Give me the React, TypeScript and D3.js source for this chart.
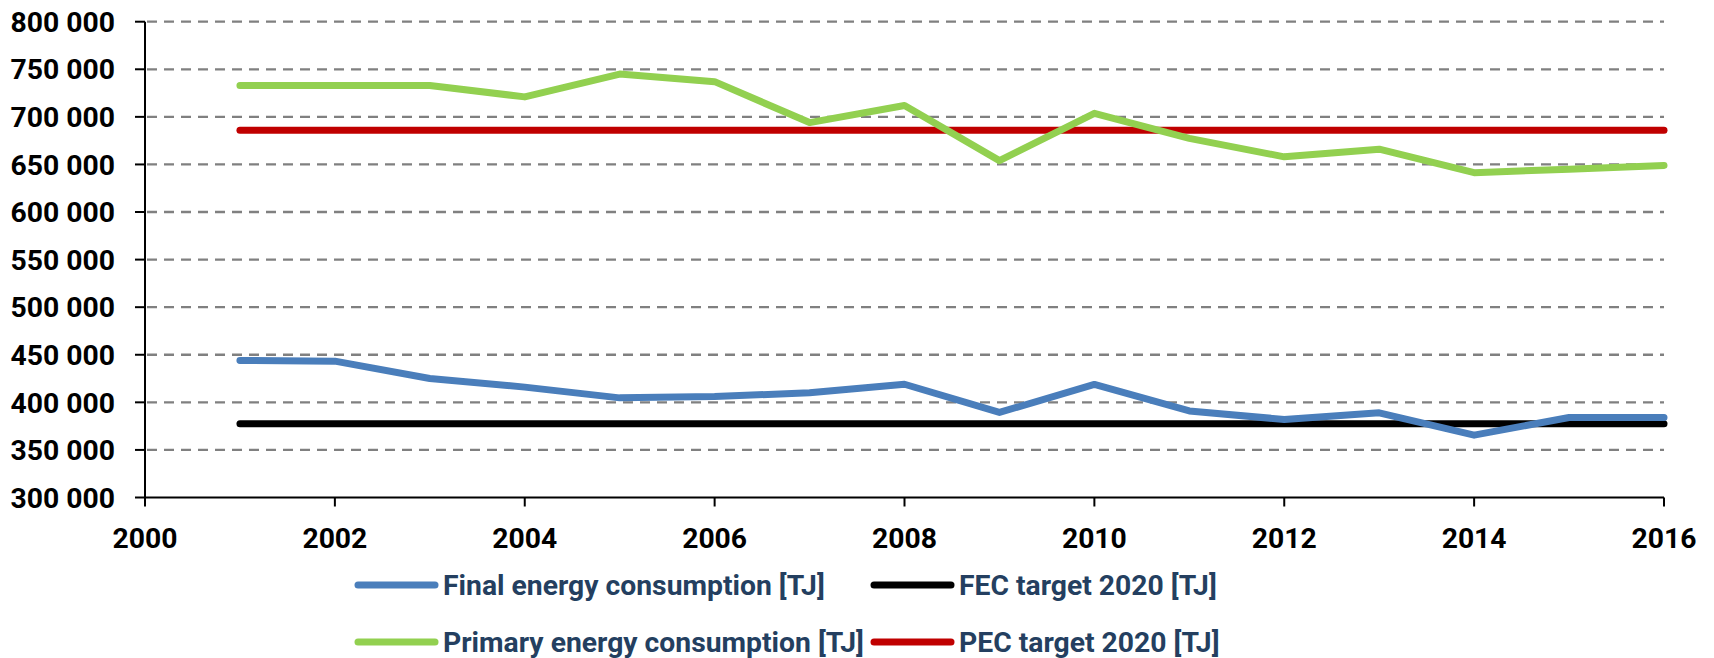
import React, { useEffect, useRef } from "react";
import * as d3 from "d3";

// values in TJ
const years = [2001, 2002, 2003, 2004, 2005, 2006, 2007, 2008, 2009, 2010, 2011, 2012, 2013, 2014, 2015, 2016];
const finalEnergy = [444000, 443300, 425000, 416000, 404700, 406200, 410000, 419000, 389400, 418800, 391000, 382000, 389000, 365500, 384000, 384000];
const primaryEnergy = [733000, 733000, 733000, 721000, 745000, 737000, 694000, 712000, 654000, 703700, 677400, 658000, 666000, 641300, 645000, 649000];
const fecTarget = 377400;
const pecTarget = 686000;

const yTicks = [300000, 350000, 400000, 450000, 500000, 550000, 600000, 650000, 700000, 750000, 800000];
const xTicks = [2000, 2002, 2004, 2006, 2008, 2010, 2012, 2014, 2016];

const legendItems = [
  { name: "Final energy consumption [TJ]", color: "#4A7EBB" },
  { name: "FEC target 2020 [TJ]", color: "#000000" },
  { name: "Primary energy consumption [TJ]", color: "#92D050" },
  { name: "PEC target 2020 [TJ]", color: "#C00000" },
];

const FONT = "Roboto, 'Open Sans', sans-serif";
const FONT_SIZE = 28.3;

export default function App() {
  const ref = useRef<SVGSVGElement>(null);

  useEffect(() => {
    const svg = d3.select(ref.current);
    svg.selectAll("*").remove();

    const x = d3.scaleLinear().domain([2000, 2016]).range([145, 1664]);
    const y = d3.scaleLinear().domain([300000, 800000]).range([497.5, 21.7]);

    const fmt = d3.formatLocale({ decimal: ".", thousands: " ", grouping: [3], currency: ["", ""] }).format(",");

    // dashed grid
    svg.append("g")
      .selectAll("line")
      .data(yTicks.filter(d => d !== 300000))
      .join("line")
      .attr("x1", x(2000) + 2)
      .attr("x2", x(2016))
      .attr("y1", d => y(d))
      .attr("y2", d => y(d))
      .attr("stroke", "#808080")
      .attr("stroke-width", 2.3)
      .attr("stroke-dasharray", "10 7");

    // y axis
    const yAxis = svg.append("g");
    yAxis.append("line")
      .attr("x1", x(2000)).attr("x2", x(2000))
      .attr("y1", y(800000)).attr("y2", y(300000))
      .attr("stroke", "#000").attr("stroke-width", 2);
    yAxis.selectAll(".tick")
      .data(yTicks)
      .join("line")
      .attr("x1", x(2000) - 10).attr("x2", x(2000))
      .attr("y1", d => y(d)).attr("y2", d => y(d))
      .attr("stroke", "#000").attr("stroke-width", 2);
    yAxis.selectAll("text")
      .data(yTicks)
      .join("text")
      .attr("x", 115)
      .attr("y", d => y(d))
      .attr("dy", "0.36em")
      .attr("text-anchor", "end")
      .attr("font-family", FONT)
      .attr("font-weight", "bold")
      .attr("font-size", FONT_SIZE)
      .text(d => fmt(d));

    // x axis
    const xAxis = svg.append("g");
    xAxis.append("line")
      .attr("x1", x(2000)).attr("x2", x(2016))
      .attr("y1", y(300000)).attr("y2", y(300000))
      .attr("stroke", "#000").attr("stroke-width", 2);
    xAxis.selectAll(".tick")
      .data(xTicks)
      .join("line")
      .attr("x1", d => x(d)).attr("x2", d => x(d))
      .attr("y1", y(300000)).attr("y2", y(300000) + 9)
      .attr("stroke", "#000").attr("stroke-width", 2);
    xAxis.selectAll("text")
      .data(xTicks)
      .join("text")
      .attr("x", d => x(d))
      .attr("y", 548)
      .attr("text-anchor", "middle")
      .attr("font-family", FONT)
      .attr("font-weight", "bold")
      .attr("font-size", FONT_SIZE)
      .text(d => d);

    const line = d3.line<[number, number]>()
      .x(d => x(d[0]))
      .y(d => y(d[1]));

    const series: { values: number[]; color: string }[] = [
      { values: years.map(() => pecTarget), color: "#C00000" },
      { values: primaryEnergy, color: "#92D050" },
      { values: years.map(() => fecTarget), color: "#000000" },
      { values: finalEnergy, color: "#4A7EBB" },
    ];

    svg.append("g")
      .selectAll("path")
      .data(series)
      .join("path")
      .attr("d", s => line(years.map((yr, i) => [yr, s.values[i]] as [number, number])))
      .attr("fill", "none")
      .attr("stroke", s => s.color)
      .attr("stroke-width", 7)
      .attr("stroke-linejoin", "round")
      .attr("stroke-linecap", "round");

    // legend, two columns
    const cols = [358, 874];
    const rows = [585, 642];
    const lg = svg.append("g")
      .selectAll("g")
      .data(legendItems)
      .join("g")
      .attr("transform", (d, i) => `translate(${cols[i % 2]},${rows[Math.floor(i / 2)]})`);
    lg.append("line")
      .attr("x1", 0).attr("x2", 77)
      .attr("stroke", d => d.color)
      .attr("stroke-width", 7)
      .attr("stroke-linecap", "round");
    lg.append("text")
      .attr("x", 85)
      .attr("y", 10)
      .attr("font-family", FONT)
      .attr("font-weight", "bold")
      .attr("font-size", FONT_SIZE)
      .attr("fill", "#243F60")
      .text(d => d.name);
  }, []);

  return (
    <svg
      ref={ref}
      width={1714}
      height={658}
      style={{ position: "absolute", left: 0, top: 0, background: "#fff" }}
    />
  );
}
